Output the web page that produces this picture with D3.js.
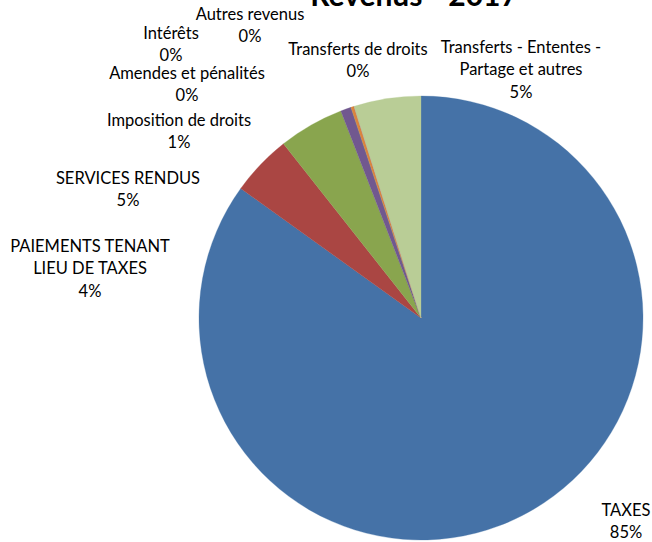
<!DOCTYPE html>
<html>
<head>
<meta charset="utf-8">
<script src="https://cdn.jsdelivr.net/npm/d3@7"></script>
<style>
  body { margin: 0; background: #fff; }
  text { font-family: Lato, "Open Sans", sans-serif; fill: #000; }
</style>
</head>
<body>
<div id="pie"></div>
<script>
// categories and their share of revenue (%)
var categories = ["TAXES", "PAIEMENTS TENANT LIEU DE TAXES", "SERVICES RENDUS",
  "Imposition de droits", "Amendes et pénalités", "Intérêts", "Autres revenus",
  "Transferts de droits", "Transferts - Ententes - Partage et autres"];
var values = [84.9, 4.45, 4.75, 0.77, 0.0, 0.24, 0.0, 0.0, 4.87];
// label lines as written on the chart
var labelLines = [
  ["TAXES"],
  ["PAIEMENTS TENANT", "LIEU DE TAXES"],
  ["SERVICES RENDUS"],
  ["Imposition de droits"],
  ["Amendes et pénalités"],
  ["Intérêts"],
  ["Autres revenus"],
  ["Transferts de droits"],
  ["Transferts - Ententes -", "Partage et autres"]
];
var colors = ["#4572A7", "#AA4643", "#89A54E", "#71588F", "#4198AF",
  "#DB843D", "#93A9CF", "#D19392", "#B9CD96"];

// label anchor (center x, center y of first line), placed like the original
var labelPos = [
  [626, 510], [90, 246], [128, 178], [179, 120], [187, 73],
  [171, 33], [250, 14], [358, 49], [521, 47]
];

var width = 652, height = 542;
var cx = 421, cy = 318, radius = 222;
var lineH = 22.5;

var svg = d3.select("#pie")
  .append("svg")
    .attr("width", width)
    .attr("height", height);

// slices run clockwise from 12 o'clock, in data order
var pie = d3.pie()
  .sort(null)
  .value(function(d) { return d; });

var arc = d3.arc()
  .innerRadius(0)
  .outerRadius(radius);

var total = d3.sum(values);

var g = svg.append("g")
  .attr("transform", "translate(" + cx + "," + cy + ")");

g.selectAll("path")
  .data(pie(values))
  .enter()
  .append("path")
    .attr("d", arc)
    .attr("fill", function(d, i) { return colors[i]; })
    .attr("stroke", function(d, i) { return colors[i]; })
    .attr("stroke-width", 0.3);

// data labels
var fmt = d3.format(".0f");
labelLines.forEach(function(lines, i) {
  var t = svg.append("text")
    .attr("text-anchor", "middle")
    .style("font-size", "16.5px");
  var all = lines.concat([fmt(values[i] / total * 100) + "%"]);
  all.forEach(function(l, j) {
    t.append("tspan")
      .attr("x", labelPos[i][0])
      .attr("y", labelPos[i][1] + 5.5 + j * lineH)
      .text(l);
  });
});

// title, partly cut off at the top
svg.append("text")
  .attr("x", 414)
  .attr("y", 6)
  .attr("text-anchor", "middle")
  .style("font-size", "30px")
  .style("font-weight", "bold")
  .text("Revenus - 2017");
</script>
</body>
</html>
